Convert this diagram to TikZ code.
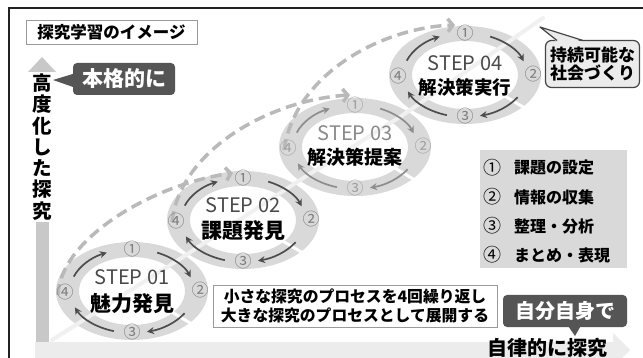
\documentclass[tikz,border=0pt]{standalone}
\usepackage{fontspec}
\setmainfont{Noto Sans CJK JP}
\usetikzlibrary{arrows.meta,calc}
\definecolor{ringc}{HTML}{D9D9D9}
\definecolor{dashc}{HTML}{B9B9B9}
\definecolor{darkc}{HTML}{555555}
\definecolor{numc}{HTML}{7E7E7E}
\definecolor{lightnumc}{HTML}{A0A0A0}
\definecolor{stepc}{HTML}{4A4A4A}
\definecolor{lightstepc}{HTML}{8A8A8A}
\definecolor{arrc}{HTML}{4D4D4D}
\definecolor{lightarrc}{HTML}{8E8E8E}
\definecolor{legc}{HTML}{D9D9D9}
\definecolor{vbarc}{HTML}{C8C8C8}
\definecolor{hbarc}{HTML}{ECECEC}
\definecolor{framec}{HTML}{222222}
\definecolor{calllight}{HTML}{EBEBEB}
\definecolor{callborder}{HTML}{444444}
\definecolor{diagc}{HTML}{F0F0F0}
\definecolor{boxborder}{HTML}{9A9A9A}

\newcommand{\fs}[1]{\fontsize{#1}{#1}\selectfont}

\tikzset{
  ringfill/.style={fill=ringc, even odd rule},
  numlbl/.style={font=\fs{17}, inner sep=0pt},
  steplbl/.style={font=\fs{20}, inner sep=0pt},
  jplbl/.style={font=\bfseries\fs{21}, inner sep=0pt, text=black},
  ringarrow/.style={line width=1.7pt, -{Stealth[length=7pt,width=7pt]}},
  dasharc/.style={dashc, line width=3.5pt, dash pattern=on 11pt off 6pt, -{Straight Barb[length=5pt,width=13pt]}},
  darkcall/.style={fill=darkc, rounded corners=4pt, text=white, font=\bfseries\fs{20}, inner sep=0pt},
  legnum/.style={font=\fs{18}, inner sep=0pt, text=black},
  legtext/.style={font=\bfseries\fs{16}, inner sep=0pt, anchor=west, text=black},
}

\newcommand{\ringmarks}[3]{%
  \draw[white, line width=3pt] ($(#1)+(-40:51 and 32)$) -- ($(#1)+(-40:79 and 52)$);
  \node[numlbl, text=#2] (#1-n1) at ($(#1)+(0,42)$) {①};
  \node[numlbl, text=#2] (#1-n2) at ($(#1)+(68,1)$) {②};
  \node[numlbl, text=#2] (#1-n3) at ($(#1)+(0,-41)$) {③};
  \node[numlbl, text=#2] (#1-n4) at ($(#1)+(-67,-1)$) {④};
  \draw[ringarrow, #3] ($(#1)+(160:62 and 42)$) arc[start angle=160, end angle=114, x radius=62, y radius=42];
  \draw[ringarrow, #3] ($(#1)+(66:62 and 42)$) arc[start angle=66, end angle=19, x radius=62, y radius=42];
  \draw[ringarrow, #3] ($(#1)+(-32:62 and 42)$) arc[start angle=-32, end angle=-76, x radius=62, y radius=42];
  \draw[ringarrow, #3] ($(#1)+(-107:62 and 42)$) arc[start angle=-107, end angle=-157, x radius=62, y radius=42];
}

\begin{document}
\begin{tikzpicture}[x=1pt,y=1pt]
\useasboundingbox (0,0) rectangle (643,-358);
\fill[white] (0,0) rectangle (643,-358);

% axes
\fill[hbarc] (35,-342) rectangle (613,-358);
\fill[hbarc] (613,-333) -- (630,-350) -- (613,-367) -- cycle;
\fill[vbarc] (35.5,-342) rectangle (48.5,-70);
\fill[vbarc] (28,-72) -- (42,-57) -- (56,-72) -- cycle;

% frame
\draw[framec, line width=2.2pt] (646,-8) -- (9,-8) -- (9,-362);

% vertical label
\node[fill=white, inner xsep=1pt, inner ysep=2pt, align=center,
      font=\bfseries\fontsize{19.5}{21.3}\selectfont] (vtext) at (42,-147)
      {高\\度\\化\\し\\た\\探\\究};

% title
\node[draw=boxborder, line width=0.8pt, minimum width=171pt, minimum height=24pt,
      inner sep=0pt, font=\bfseries\fs{16.5}] (title) at (111.5,-32) {探究学習のイメージ};

% step centres
\coordinate (s1) at (132,-291);
\coordinate (s2) at (243,-220);
\coordinate (s3) at (355,-147);
\coordinate (s4) at (465,-75);

% rings
\foreach \c in {s1,s2,s3,s4}
  \fill[ringfill] (\c) ellipse[x radius=76, y radius=49] (\c) ellipse[x radius=53, y radius=34];

% light diagonal path
\coordinate (dg0) at (52,-340);
\coordinate (dg1) at (543,-18);
\draw[diagc, line width=4pt, line cap=round] (dg0) -- (183,-257) -- (297,-182) -- (403,-115) -- (dg1);

% dashed growth arcs
\draw[dasharc] ($(s1)+(-74,-4)$) .. controls (60,-240) and (150,-185) .. ($(s2)+(-10,47)$);
\draw[dasharc] ($(s2)+(-71,-2)$) .. controls (180,-150) and (270,-100) .. ($(s3)+(-5,52)$);
\draw[dasharc] ($(s3)+(-71,-3)$) .. controls (295,-75) and (380,-28) .. ($(s4)+(-10,50)$);

% ring marks
\ringmarks{s1}{numc}{arrc}
\ringmarks{s2}{numc}{arrc}
\ringmarks{s3}{lightnumc}{lightarrc}
\ringmarks{s4}{numc}{arrc}

% step labels
\node[steplbl, text=stepc] (s1-t) at ($(s1)+(0,14)$) {STEP 01};
\node[jplbl] (s1-j) at ($(s1)+(0,-12)$) {魅力発見};
\node[steplbl, text=stepc] (s2-t) at ($(s2)+(0,15)$) {STEP 02};
\node[jplbl] (s2-j) at ($(s2)+(0,-11)$) {課題発見};
\node[steplbl, text=lightstepc] (s3-t) at ($(s3)+(0,14)$) {STEP 03};
\node[jplbl, font=\bfseries\fs{19}] (s3-j) at ($(s3)+(0,-10)$) {解決策提案};
\node[steplbl, text=stepc] (s4-t) at ($(s4)+(0,12)$) {STEP 04};
\node[jplbl, font=\bfseries\fs{18.5}] (s4-j) at ($(s4)+(0,-12)$) {解決策実行};

% callout 本格的に
\coordinate (c1tip) at (53,-80);
\fill[darkc] (76,-73) -- (c1tip) -- (76,-88) -- cycle;
\node[darkcall, minimum width=102pt, minimum height=32pt, font=\bfseries\fs{21}] (c1) at (124,-79) {本格的に};

% callout 自分自身で
\coordinate (c2tip) at (575,-336);
\fill[darkc] (564,-320) -- (c2tip) -- (584,-320) -- cycle;
\node[darkcall, minimum width=124pt, minimum height=32pt] (c2) at (565,-311) {自分自身で};

% callout 持続可能な社会づくり
\coordinate (c3tip) at (540,-27);
\node[fill=calllight, draw=callborder, line width=1.2pt, rounded corners=6pt,
      minimum width=94pt, minimum height=47pt, inner sep=0pt, align=center,
      font=\bfseries\fontsize{17}{18.5}\selectfont] (c3) at (592.5,-64) {持続可能な\\社会づくり};
\fill[calllight] (557,-42) -- (c3tip) -- (583,-42) -- cycle;
\draw[callborder, line width=1.2pt, line join=round] (557,-40.5) -- (c3tip) -- (583,-40.5);

% legend
\node[fill=legc, minimum width=147pt, minimum height=118pt, inner sep=0pt] (leg) at (553.5,-209) {};
\node[legnum] (l1n) at (492,-168) {①};
\node[legtext] (l1t) at (514,-168) {課題の設定};
\node[legnum] (l2n) at (492,-197) {②};
\node[legtext] (l2t) at (514,-197) {情報の収集};
\node[legnum] (l3n) at (492,-226) {③};
\node[legtext] (l3t) at (514,-226) {整理・分析};
\node[legnum] (l4n) at (492,-255) {④};
\node[legtext] (l4t) at (514,-255) {まとめ・表現};

% explanation box
\node[draw=boxborder, line width=0.8pt, fill=white, minimum width=284pt, minimum height=42pt,
      inner sep=0pt, align=center, font=\bfseries\fontsize{15.8}{19.5}\selectfont] (expl) at (355,-306)
      {小さな探究のプロセスを4回繰り返し\\大きな探究のプロセスとして展開する};

% bottom axis label
\node[inner sep=0pt, font=\bfseries\fs{20}] (htext) at (547,-348) {自律的に探究};
\end{tikzpicture}
\end{document}
